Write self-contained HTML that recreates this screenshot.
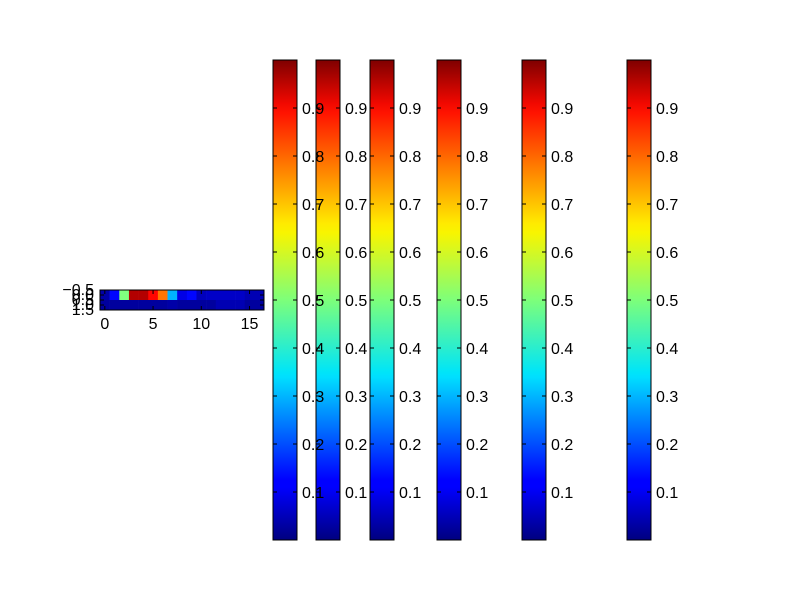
<!DOCTYPE html>
<html><head><meta charset="utf-8"><style>
body{margin:0;background:#fff;}
svg text{font-family:"Liberation Sans",sans-serif;font-size:16px;fill:#000;}
</style></head><body>
<svg id="chart" width="800" height="600" xmlns="http://www.w3.org/2000/svg">
<defs>
<linearGradient id="jet" x1="0" y1="1" x2="0" y2="0">
<stop offset="0" stop-color="#00007f"/>
<stop offset="0.11" stop-color="#0000ff"/>
<stop offset="0.125" stop-color="#0000ff"/>
<stop offset="0.34" stop-color="#00dfff"/>
<stop offset="0.35" stop-color="#00e5f8"/>
<stop offset="0.5" stop-color="#7dff7a"/>
<stop offset="0.64" stop-color="#f8f500"/>
<stop offset="0.66" stop-color="#ffea00"/>
<stop offset="0.89" stop-color="#ff1300"/>
<stop offset="0.91" stop-color="#f10800"/>
<stop offset="1" stop-color="#7f0000"/>
</linearGradient>
</defs>
<g id="heat"></g>
<g id="bars"></g>
<g id="labels"></g>
</svg>
<script>
const row0 = [0.04,0.13,0.5,0.95,0.95,0.87,0.76,0.3,0.1,0.13,0.06,0.07,0.07,0.07,0.07,0.05,0.05];
const row1 = [0.03,0.03,0.03,0.03,0.03,0.03,0.03,0.04,0.03,0.03,0.03,0.03,0.05,0.05,0.05,0.03,0.03];
const xTicks = [0,5,10,15];
const yTicks = ["\u22120.5","0.0","0.5","1.0","1.5"];
const yTickVals = [-0.5,0,0.5,1,1.5];
const cbTicks = [0.1,0.2,0.3,0.4,0.5,0.6,0.7,0.8,0.9];
const cbLefts = [273,316,370,437,522,627];

const NS="http://www.w3.org/2000/svg";
function mk(t,a,p){const e=document.createElementNS(NS,t);for(const k in a)e.setAttribute(k,a[k]);p.appendChild(e);return e;}
function jet(v){
  function c(x){return Math.max(0,Math.min(1,x));}
  const r=c(1.5-Math.abs(4*v-3)), g=c(1.5-Math.abs(4*v-2)), b=c(1.5-Math.abs(4*v-1));
  return `rgb(${Math.round(r*255)},${Math.round(g*255)},${Math.round(b*255)})`;
}
const heat=document.getElementById('heat');
const hx0=100,hx1=264,hy0=290,hy1=310;
const xs=v=>hx0+(v+0.5)*(hx1-hx0)/17;
const ys=v=>hy0+(v+0.5)*(hy1-hy0)/2;
[row0,row1].forEach((row,ri)=>{
  row.forEach((v,ci)=>{
    const r=mk('rect',{x:xs(ci-0.5),y:ys(ri-0.5),width:xs(ci+0.5)-xs(ci-0.5)+0.3,height:ys(ri+0.5)-ys(ri-0.5)+0.3,fill:jet(v)},heat);
    
    
  });
});
mk('rect',{x:hx0,y:hy0,width:hx1-hx0,height:hy1-hy0,fill:'none',stroke:'#000','stroke-width':1},heat);
xTicks.forEach(t=>{
  const x=xs(t);
  mk('line',{x1:x,x2:x,y1:hy1,y2:hy1-4,stroke:'#000'},heat);
  mk('line',{x1:x,x2:x,y1:hy0,y2:hy0+4,stroke:'#000'},heat);
  const tx=mk('text',{x:x,y:hy1+19,'text-anchor':'middle'},heat);tx.textContent=t;
  
  
});
yTickVals.forEach((t,i)=>{
  const y=ys(t);
  mk('line',{x1:hx0,x2:hx0+4,y1:y,y2:y,stroke:'#000'},heat);
  mk('line',{x1:hx1,x2:hx1-4,y1:y,y2:y,stroke:'#000'},heat);
  const tx=mk('text',{x:hx0-6,y:y+5,'text-anchor':'end'},heat);tx.textContent=yTicks[i];
  
  
});
const bars=document.getElementById('bars');
const labels=document.getElementById('labels');
const cy0=60,cy1=540,cw=24;
const cys=v=>cy1-v*(cy1-cy0);
cbLefts.forEach(x=>{
  const g=mk('g',{},bars);
  
  
  mk('rect',{x:x,y:cy0,width:cw,height:cy1-cy0,fill:'url(#jet)',stroke:'#000','stroke-width':1},g);
  cbTicks.forEach(t=>{
    const y=cys(t);
    mk('line',{x1:x+cw-4,x2:x+cw,y1:y,y2:y,stroke:'#000'},g);
    mk('line',{x1:x,x2:x+4,y1:y,y2:y,stroke:'#000'},g);
    const tx=mk('text',{x:x+cw+5,y:y+6},labels);tx.textContent=t.toFixed(1);
    
    
  });
});
</script>
</body></html>
